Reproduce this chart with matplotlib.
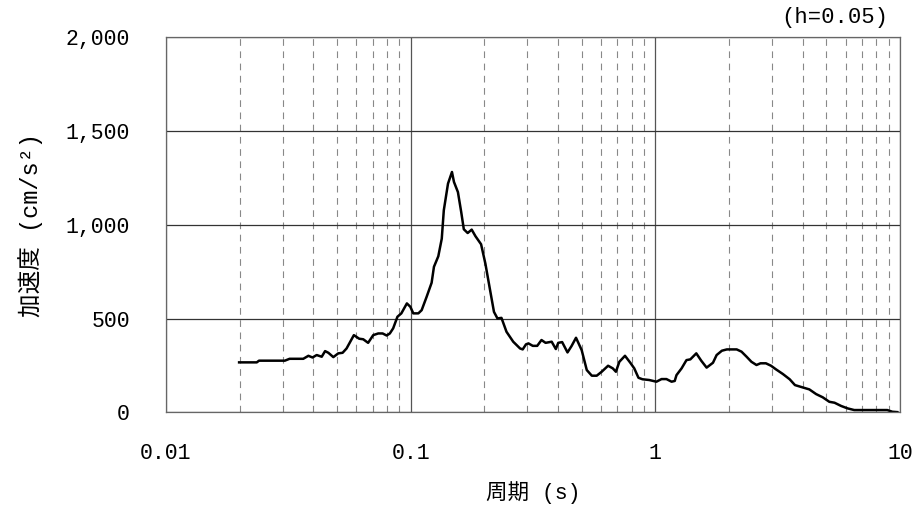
import matplotlib
matplotlib.use("Agg")
import matplotlib.pyplot as plt
from matplotlib.ticker import LogLocator, NullFormatter

period = [0.0199, 0.0235, 0.024, 0.0306, 0.032, 0.0364, 0.0382, 0.0397, 0.0413, 0.0433,
          0.0447, 0.0461, 0.0483, 0.0506, 0.0527, 0.0547, 0.0586, 0.0616, 0.064, 0.067,
          0.0703, 0.0737, 0.0768, 0.0798, 0.0822, 0.0848, 0.0883, 0.0916, 0.0965, 0.0997,
          0.1025, 0.1075, 0.1109, 0.1162, 0.1218, 0.1245, 0.1297, 0.134, 0.1366, 0.1421,
          0.1475, 0.1503, 0.156, 0.1609, 0.1649, 0.171, 0.1776, 0.184, 0.194, 0.202,
          0.21, 0.219, 0.2263, 0.235, 0.2464, 0.2625, 0.28, 0.287, 0.296, 0.303,
          0.3155, 0.329, 0.3425, 0.356, 0.377, 0.392, 0.401, 0.416, 0.4375, 0.4545,
          0.474, 0.5, 0.5245, 0.55, 0.576, 0.6035, 0.641, 0.67, 0.69, 0.7125,
          0.7515, 0.79, 0.82, 0.853, 0.886, 0.944, 1.01, 1.06, 1.11, 1.165,
          1.2, 1.22, 1.28, 1.34, 1.39, 1.47, 1.54, 1.62, 1.72, 1.78,
          1.87, 1.96, 2.15, 2.25, 2.36, 2.47, 2.59, 2.69, 2.83, 2.97,
          3.11, 3.32, 3.54, 3.72, 3.99, 4.26, 4.54, 4.83, 5.14, 5.4,
          5.74, 6.1, 6.5, 7.78, 8.87, 9.3, 9.75]
accel = [267, 267, 276, 276, 286, 286, 302, 293, 306, 297,
         327, 318, 295, 315, 318, 341, 412, 393, 390, 371,
         412, 421, 421, 410, 421, 448, 510, 528, 581, 563,
         528, 528, 545, 616, 691, 776, 832, 926, 1077, 1219,
         1281, 1228, 1174, 1068, 976, 956, 974, 939, 896, 793,
         669, 536, 501, 504, 430, 377, 341, 336, 363, 368,
         355, 355, 386, 371, 377, 338, 371, 375, 320, 354,
         398, 332, 226, 196, 196, 217, 249, 235, 217, 270,
         302, 265, 235, 185, 177, 173, 164, 178, 178, 164,
         168, 199, 235, 279, 283, 315, 276, 239, 265, 306,
         329, 336, 336, 324, 297, 270, 253, 262, 262, 249,
         230, 205, 177, 146, 134, 123, 98, 81, 57, 52,
         35, 22, 13, 13, 13, 4, 2]

xticks = [0.01, 0.1, 1, 10]
xticklabels = ["0.01", "0.1", "1", "10"]
yticks = [0, 500, 1000, 1500, 2000]
yticklabels = ["0", "500", "1,000", "1,500", "2,000"]

num_font = ["Liberation Mono", "Noto Sans CJK JP"]

fig = plt.figure(figsize=(9.17, 5.09), dpi=100)
ax = fig.add_axes([0.181, 0.1896, 0.8005, 0.7377])
ax.set_xscale("log")
ax.set_xlim(0.01, 10)
ax.set_ylim(0, 2000)

ax.xaxis.set_minor_locator(LogLocator(base=10, subs=range(2, 10)))
ax.xaxis.set_minor_formatter(NullFormatter())
ax.grid(which="minor", axis="x", color="#888888", linestyle=(0, (6, 5)), linewidth=0.8)
ax.grid(which="major", axis="x", color="#555555", linestyle="-", linewidth=0.9)
ax.grid(which="major", axis="y", color="#333333", linestyle="-", linewidth=0.9)
ax.set_axisbelow(True)

ax.plot(period, accel, color="black", linewidth=1.8)

ax.set_xticks(xticks)
ax.set_xticklabels(xticklabels, family=num_font, fontsize=15.5)
ax.set_yticks(yticks)
ax.set_yticklabels(yticklabels, family=num_font, fontsize=15.5)
ax.tick_params(axis="both", which="both", length=0)
ax.tick_params(axis="x", pad=22)
ax.tick_params(axis="y", pad=26)

for s in ax.spines.values():
    s.set_color("#666666")
    s.set_linewidth(0.9)

ax.set_xlabel("周期 (s)", family=num_font, fontsize=15.5, labelpad=12)
ax.set_ylabel("加速度 (cm/s²)", family=num_font, fontsize=17, labelpad=16)
fig.text(888 / 917, 1 - 17 / 509, "(h=0.05)", family=num_font, fontsize=16,
         ha="right", va="center")

fig.savefig("out.png", dpi=100)
